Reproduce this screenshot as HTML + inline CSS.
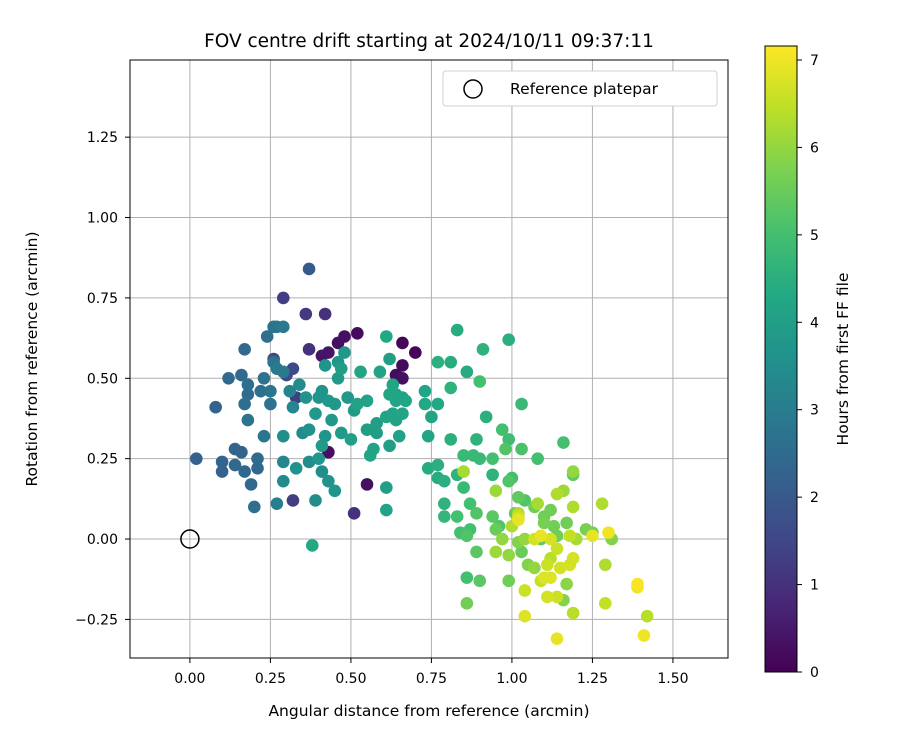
<!DOCTYPE html>
<html><head><meta charset="utf-8"><style>
body{margin:0;background:#fff}
svg{display:block;font-family:"DejaVu Sans","Liberation Sans",sans-serif}
</style></head><body>
<svg id="chart" width="900" height="750"></svg>
<script>
const xsVals=[0.02,0.08,0.10,0.10,0.12,0.14,0.14,0.16,0.17,0.16,0.17,0.18,0.18,0.17,0.18,0.19,0.20,0.21,0.21,0.22,0.23,0.23,0.24,0.25,0.25,0.26,0.27,0.29,0.26,0.27,0.29,0.27,
0.29,0.37,0.42,0.36,0.32,0.33,0.26,0.30,0.32,
0.48,0.52,0.46,0.41,0.43,0.66,0.70,0.64,0.66,0.66,0.55,0.51,0.43,0.37,
0.29,0.31,0.35,0.37,0.39,0.40,0.41,0.42,0.44,0.45,0.47,0.37,0.33,0.29,0.41,0.43,0.45,0.39,0.29,0.46,0.48,0.46,0.42,0.41,0.43,0.40,0.36,0.34,0.32,0.58,0.55,0.50,0.53,0.59,0.61,0.62,0.64,0.63,0.64,0.65,0.62,0.56,0.61,0.61,0.58,0.57,0.61,0.52,0.55,0.62,0.66,0.63,0.64,0.66,0.38,0.47,0.51,0.49,
0.83,0.99,0.91,0.77,0.81,0.86,0.90,0.81,0.73,0.67,0.73,0.77,1.03,0.92,0.75,0.74,0.81,0.89,0.99,0.97,1.16,0.85,0.88,0.90,0.94,0.98,1.03,1.08,0.74,0.77,0.77,0.79,0.83,0.85,0.94,0.99,1.00,1.19,0.87,0.89,0.79,0.79,0.83,0.84,0.86,0.89,0.87,0.94,0.95,0.96,1.01,1.02,1.04,1.07,1.10,1.12,1.10,1.13,1.09,1.14,1.17,1.23,1.25,1.31,0.86,0.90,0.99,1.03,1.05,1.16,1.17,1.19,0.86,
0.85,0.95,1.00,1.02,1.02,1.07,1.09,1.12,1.14,1.18,1.12,1.11,1.15,1.18,1.19,1.10,1.12,1.09,1.14,1.11,1.04,1.04,1.14,1.28,1.25,1.30,1.29,1.29,1.39,1.39,1.42,1.41,1.19,1.16,1.14,1.19,1.08,1.02,1.04,0.97,0.95,1.02,0.99,1.07,1.20];
const ysVals=[0.25,0.41,0.24,0.21,0.50,0.28,0.23,0.27,0.21,0.51,0.59,0.48,0.45,0.42,0.37,0.17,0.10,0.22,0.25,0.46,0.50,0.32,0.63,0.42,0.46,0.66,0.66,0.66,0.55,0.53,0.52,0.11,
0.75,0.59,0.70,0.70,0.12,0.44,0.56,0.51,0.53,
0.63,0.64,0.61,0.57,0.58,0.61,0.58,0.51,0.54,0.50,0.17,0.08,0.27,0.84,
0.32,0.46,0.33,0.34,0.39,0.25,0.29,0.32,0.37,0.42,0.33,0.24,0.22,0.18,0.21,0.18,0.15,0.12,0.24,0.50,0.58,0.55,0.54,0.46,0.43,0.44,0.44,0.48,0.41,0.36,0.34,0.31,0.52,0.52,0.63,0.45,0.45,0.39,0.37,0.32,0.29,0.26,0.16,0.09,0.33,0.28,0.38,0.42,0.43,0.56,0.44,0.48,0.43,0.39,-0.02,0.53,0.40,0.44,
0.65,0.62,0.59,0.55,0.55,0.52,0.49,0.47,0.46,0.43,0.42,0.42,0.42,0.38,0.38,0.32,0.31,0.31,0.31,0.34,0.30,0.26,0.26,0.25,0.25,0.28,0.28,0.25,0.22,0.23,0.19,0.18,0.20,0.16,0.20,0.18,0.19,0.20,0.11,0.08,0.11,0.07,0.07,0.02,0.01,-0.04,0.03,0.07,0.03,0.04,0.08,0.13,0.12,0.10,0.07,0.09,0.05,0.04,0.00,0.01,0.05,0.03,0.02,0.00,-0.12,-0.13,-0.13,-0.04,-0.08,-0.19,-0.14,-0.23,-0.20,
0.21,0.15,0.04,0.07,0.06,0.00,0.01,0.00,-0.03,0.01,-0.06,-0.08,-0.09,-0.08,-0.06,-0.12,-0.12,-0.13,-0.18,-0.18,-0.16,-0.24,-0.31,0.11,0.01,0.02,-0.08,-0.20,-0.15,-0.14,-0.24,-0.30,0.10,0.15,0.14,0.21,0.11,0.08,0.00,0.00,-0.04,-0.01,-0.05,-0.09,0.00];
const hoursVals=[2.2,2.3,2.3,2.2,2.4,2.3,2.4,2.3,2.4,2.5,2.5,2.6,2.5,2.6,2.7,2.5,2.6,2.4,2.5,2.6,2.7,2.8,2.6,2.7,2.8,2.7,2.8,2.9,2.8,2.9,2.9,3.0,
1.3,1.0,1.0,1.2,1.3,1.3,1.5,1.6,1.6,
0.3,0.2,0.3,0.4,0.4,0.1,0.1,0.2,0.2,0.3,0.3,1.0,0.3,2.0,
3.5,3.2,3.4,3.6,3.8,3.8,3.9,3.7,3.8,3.8,3.9,3.5,3.6,3.4,3.5,3.6,3.7,3.5,3.3,3.9,3.8,3.7,3.7,3.6,3.8,3.7,3.6,3.4,3.3,4.0,4.0,4.0,4.2,4.1,4.3,4.2,4.2,4.1,4.1,4.1,4.0,4.2,4.0,4.1,4.0,4.1,4.2,4.1,4.1,4.0,4.1,4.2,4.2,4.2,4.3,4.0,3.9,3.8,
4.4,4.5,4.6,4.5,4.4,4.4,5.0,4.6,4.2,4.2,4.3,4.3,4.8,4.5,4.2,4.2,4.5,4.6,4.9,5.0,5.0,4.8,4.8,4.8,5.0,5.2,5.1,5.0,4.4,4.5,4.4,4.5,4.6,4.8,4.6,5.2,5.0,5.4,5.0,5.2,4.6,4.7,5.0,5.0,5.2,5.3,5.0,5.3,5.5,5.2,5.4,5.4,5.2,5.6,5.6,5.6,5.7,5.6,5.4,5.6,5.6,5.7,5.6,5.8,5.0,5.3,5.6,5.5,5.8,5.8,5.9,6.4,5.6,
6.2,6.1,6.3,6.6,6.9,6.7,6.9,6.7,6.6,6.5,6.4,6.6,6.7,6.7,6.7,6.8,6.8,6.5,6.6,6.7,6.6,6.8,6.9,6.3,6.9,7.0,6.3,6.5,7.0,7.1,6.4,7.0,6.3,6.1,6.3,6.0,6.2,6.3,6.0,6.0,6.1,5.8,6.0,6.0,6.2];
const xTicks=[0,0.25,0.5,0.75,1.0,1.25,1.5];
const yTicks=[-0.25,0,0.25,0.5,0.75,1.0,1.25];
const cTicks=[0,1,2,3,4,5,6,7];
const NS='http://www.w3.org/2000/svg';
const svg=document.getElementById('chart');
const L=130,R=728,T=60,B=658;
const xMin=-0.186,xMax=1.671,yMin=-0.37,yMax=1.49;
const sx=v=>L+(v-xMin)/(xMax-xMin)*(R-L);
const sy=v=>B-(v-yMin)/(yMax-yMin)*(B-T);
const cT=46,cB=672,cMax=7.16;
const sc=v=>cB-v/cMax*(cB-cT);
const vir=['#440154','#482475','#414487','#355f8d','#2a788e','#21918c','#22a884','#44bf70','#7ad151','#bddf26','#fde725'];
function hex(h){return [1,3,5].map(i=>parseInt(h.substr(i,2),16));}
function cmap(t){t=Math.max(0,Math.min(1,t))*10;const i=Math.min(9,Math.floor(t)),f=t-i;const a=hex(vir[i]),b=hex(vir[i+1]);return 'rgb('+a.map((v,k)=>Math.round(v+(b[k]-v)*f)).join(',')+')';}
function el(tag,attrs,parent){const e=document.createElementNS(NS,tag);for(const k in attrs)e.setAttribute(k,attrs[k]);(parent||svg).appendChild(e);return e;}
function txt(s,attrs,parent){const e=el('text',attrs,parent);e.textContent=s;return e;}
const grid=el('g',{});


xTicks.forEach(v=>{el('line',{x1:sx(v),x2:sx(v),y1:T,y2:B,stroke:'#b0b0b0','stroke-width':1},grid);});
yTicks.forEach(v=>{el('line',{x1:L,x2:R,y1:sy(v),y2:sy(v),stroke:'#b0b0b0','stroke-width':1},grid);});
const ref=el('circle',{cx:sx(0),cy:sy(0),r:9,fill:'none',stroke:'#000','stroke-width':1.5});


const pts=el('g',{});


const idx=xsVals.map((_,i)=>i).sort((a,b)=>hoursVals[a]-hoursVals[b]);
idx.forEach(i=>{const c=el('circle',{cx:sx(xsVals[i]),cy:sy(ysVals[i]),r:6.3,fill:cmap(hoursVals[i]/cMax)},pts);

});
const fr=el('rect',{x:L,y:T,width:R-L,height:B-T,fill:'none',stroke:'#000','stroke-width':1});


const xa=el('g',{});


xTicks.forEach(v=>{el('line',{x1:sx(v),x2:sx(v),y1:B,y2:B+5,stroke:'#000'},xa);
const t=txt(v.toFixed(2),{x:sx(v),y:B+25,'text-anchor':'middle','font-size':14},xa);

});
const ya=el('g',{});


yTicks.forEach(v=>{el('line',{x1:L-5,x2:L,y1:sy(v),y2:sy(v),stroke:'#000'},ya);
const t=txt((v<0?'\u2212'+Math.abs(v).toFixed(2):v.toFixed(2)),{x:L-12,y:sy(v)+5,'text-anchor':'end','font-size':14},ya);

});
const xt=txt('Angular distance from reference (arcmin)',{x:429,y:716,'text-anchor':'middle','font-size':15.5});


const yt=txt('Rotation from reference (arcmin)',{x:0,y:0,'text-anchor':'middle','font-size':15.5,transform:'translate(37,359) rotate(-90)'});


const ti=txt('FOV centre drift starting at 2024/10/11 09:37:11',{x:429,y:47,'text-anchor':'middle','font-size':18.5});


const lg=el('g',{});


el('rect',{x:443,y:71,width:274,height:35,rx:3,fill:'#fff',stroke:'#d0d0d0'},lg);
el('circle',{cx:473,cy:89,r:9,fill:'none',stroke:'#000','stroke-width':1.5},lg);
const lt=txt('Reference platepar',{x:510,y:94,'font-size':15.5},lg);


const defs=el('defs',{});
const gr=el('linearGradient',{id:'vg',x1:0,y1:1,x2:0,y2:0},defs);
vir.forEach((c,i)=>el('stop',{offset:(i*10)+'%','stop-color':c},gr));
const cb=el('g',{});


el('rect',{x:765,y:cT,width:32,height:cB-cT,fill:'url(#vg)',stroke:'#000','stroke-width':1},cb);
cTicks.forEach(v=>{el('line',{x1:797,x2:802,y1:sc(v),y2:sc(v),stroke:'#000'},cb);
const t=txt(String(v),{x:810,y:sc(v)+5,'font-size':14},cb);

});
const ct=txt('Hours from first FF file',{x:0,y:0,'text-anchor':'middle','font-size':15.5,transform:'translate(848,359) rotate(-90)'});


</script>
</body></html>
